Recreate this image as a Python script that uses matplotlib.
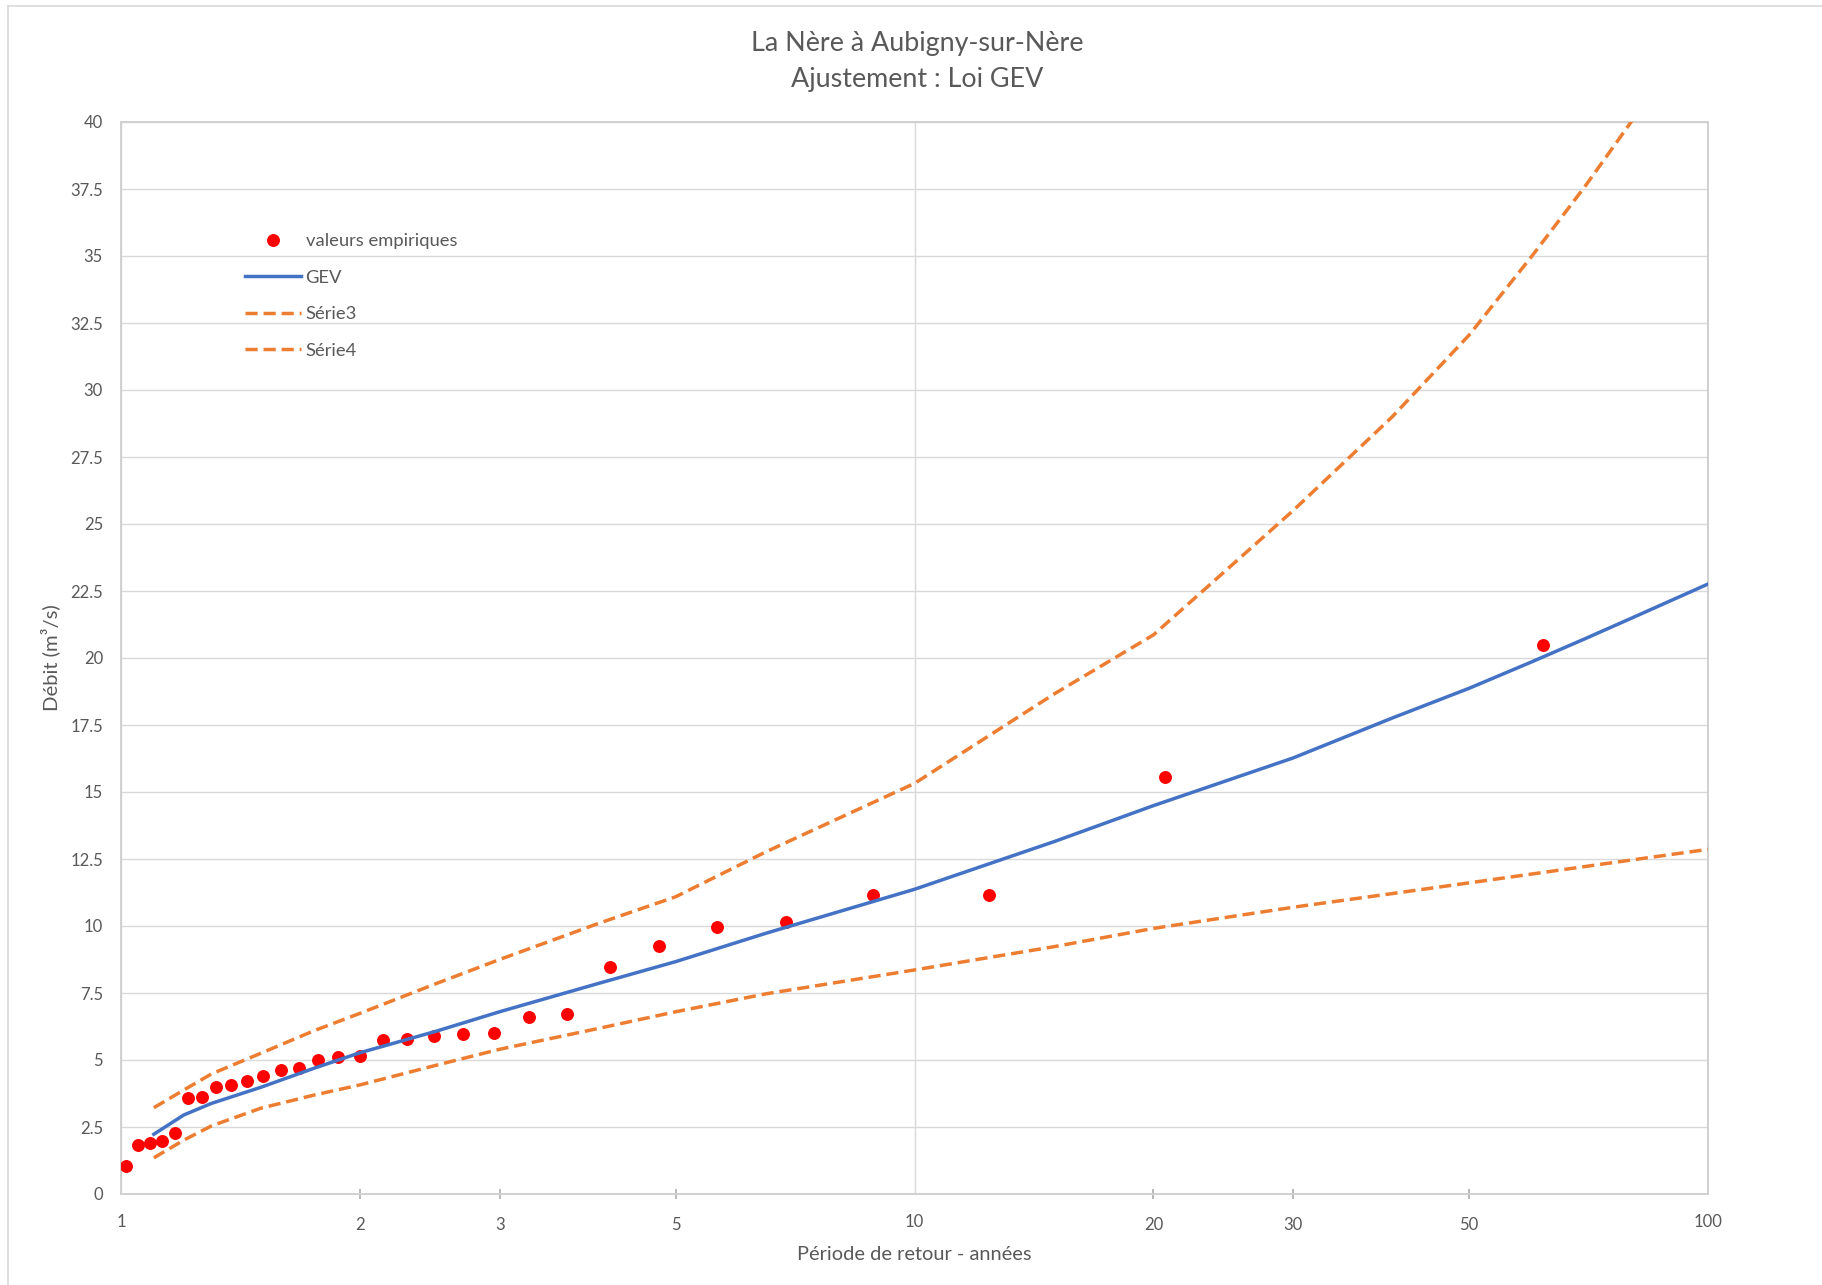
import matplotlib
matplotlib.use("Agg")
import matplotlib.pyplot as plt
from matplotlib.ticker import FixedLocator, FuncFormatter, MultipleLocator
from matplotlib.lines import Line2D

plt.rcParams['font.family'] = ['Lato', 'DejaVu Sans']

# Empirical annual maxima (return period in years, discharge in m3/s)
emp_T = [1.016, 1.051, 1.088, 1.127, 1.170, 1.216, 1.265, 1.319, 1.378, 1.442,
         1.512, 1.590, 1.676, 1.771, 1.879, 2.000, 2.138, 2.296, 2.480, 2.696,
         2.952, 3.263, 3.647, 4.133, 4.769, 5.636, 6.889, 8.857, 12.40, 20.67, 62.0]
emp_Q = [1.06, 1.83, 1.91, 1.99, 2.28, 3.58, 3.62, 4.00, 4.08, 4.23,
         4.39, 4.63, 4.70, 5.01, 5.12, 5.16, 5.75, 5.80, 5.91, 5.97,
         6.02, 6.59, 6.72, 8.46, 9.25, 9.95, 10.16, 11.16, 11.16, 15.55, 20.47]

# GEV fit and confidence bounds
fit_T = [1.1, 1.2, 1.3, 1.5, 1.75, 2, 2.5, 3, 4, 5, 6.5, 10, 15, 20, 30, 40, 50, 60, 70, 80, 100]
gev_Q = [2.23, 2.95, 3.38, 3.98, 4.69, 5.27, 6.08, 6.80, 7.86, 8.67, 9.73, 11.37, 13.15, 14.49,
         16.27, 17.76, 18.87, 19.86, 20.72, 21.48, 22.76]
upper_Q = [3.22, 3.88, 4.48, 5.25, 6.09, 6.74, 7.86, 8.75, 10.10, 11.09, 12.77, 15.32, 18.66, 20.86,
           25.5, 29.0, 32.05, 35.0, 37.6, 40.0, 45.0]
lower_Q = [1.35, 2.01, 2.54, 3.20, 3.69, 4.07, 4.81, 5.40, 6.18, 6.80, 7.47, 8.36, 9.23, 9.91,
           10.70, 11.21, 11.61, 11.94, 12.22, 12.46, 12.86]

x_labelled = [2, 3, 5, 20, 30, 50]
x_decades = [1, 10, 100]

TXT = '#595959'
GRID = '#D9D9D9'

W, H = 1822, 1285
fig = plt.figure(figsize=(W / 100, H / 100), dpi=100)
ax = fig.add_axes([121 / W, 91 / H, (1708 - 121) / W, (1194 - 122) / H])

ax.plot(emp_T, emp_Q, linestyle='none', marker='o', markersize=8.3,
        color='#FF0000', label='valeurs empiriques', zorder=3)
ax.plot(fit_T, gev_Q, color='#4472C4', lw=2.5, label='GEV', zorder=4)
ax.plot(fit_T, upper_Q, color='#ED7D31', lw=2.5, dashes=(3.5, 1.7), label='Série3', zorder=4)
ax.plot(fit_T, lower_Q, color='#ED7D31', lw=2.5, dashes=(3.5, 1.7), label='Série4', zorder=4)

ax.set_xscale('log')
ax.set_xlim(1, 100)
ax.set_ylim(0, 40)

fmt = FuncFormatter(lambda v, p: f'{v:g}')
ax.xaxis.set_major_locator(FixedLocator(x_labelled))
ax.xaxis.set_minor_locator(FixedLocator(x_decades))
ax.xaxis.set_major_formatter(fmt)
ax.xaxis.set_minor_formatter(fmt)
ax.yaxis.set_major_locator(MultipleLocator(2.5))
ax.yaxis.set_major_formatter(fmt)

ax.tick_params(axis='x', which='major', direction='inout', length=7.5, width=1.1,
               color='#A6A6A6', pad=13, labelsize=12, labelcolor=TXT)
ax.tick_params(axis='x', which='minor', length=0, pad=14.5, labelsize=12, labelcolor=TXT)
ax.tick_params(axis='y', which='major', length=0, pad=13, labelsize=12, labelcolor=TXT)

ax.grid(axis='y', which='major', color=GRID, lw=1.0, zorder=0)
ax.grid(axis='x', which='minor', color=GRID, lw=1.0, zorder=0)
ax.grid(axis='x', which='major', visible=False)
ax.set_axisbelow(True)
for s in ax.spines.values():
    s.set_color('#D0D0D0')
    s.set_linewidth(1.4)

ax.set_xlabel('Période de retour - années', fontsize=14.4, color=TXT)
ax.xaxis.set_label_coords(0.5, (1194 - 1246) / (1194 - 122))
ax.set_ylabel('Débit (m³/s)', fontsize=14.6, color=TXT)
ax.yaxis.set_label_coords((60 - 121) / (1708 - 121), 0.5)

fig.text(917 / W, 1 - 61 / H, 'La Nère à Aubigny-sur-Nère\nAjustement : Loi GEV',
         ha='center', va='center', fontsize=19.4, color=TXT, linespacing=1.55)

leg = ax.legend(loc='upper left', bbox_to_anchor=(245 / W, 1 - 233 / H),
                bbox_transform=fig.transFigure, frameon=False, fontsize=13.2,
                handlelength=3.05, handletextpad=0.25, labelspacing=1.12,
                borderpad=0, borderaxespad=0)
for t in leg.get_texts():
    t.set_color(TXT)

# chart area border (left and top edges)
fig.add_artist(Line2D([8 / W, 8 / W], [0, 1 - 6 / H], transform=fig.transFigure,
                      color=GRID, lw=1.2))
fig.add_artist(Line2D([8 / W, 1], [1 - 6 / H, 1 - 6 / H], transform=fig.transFigure,
                      color=GRID, lw=1.2))

fig.savefig('out.png', dpi=100, facecolor='white')
